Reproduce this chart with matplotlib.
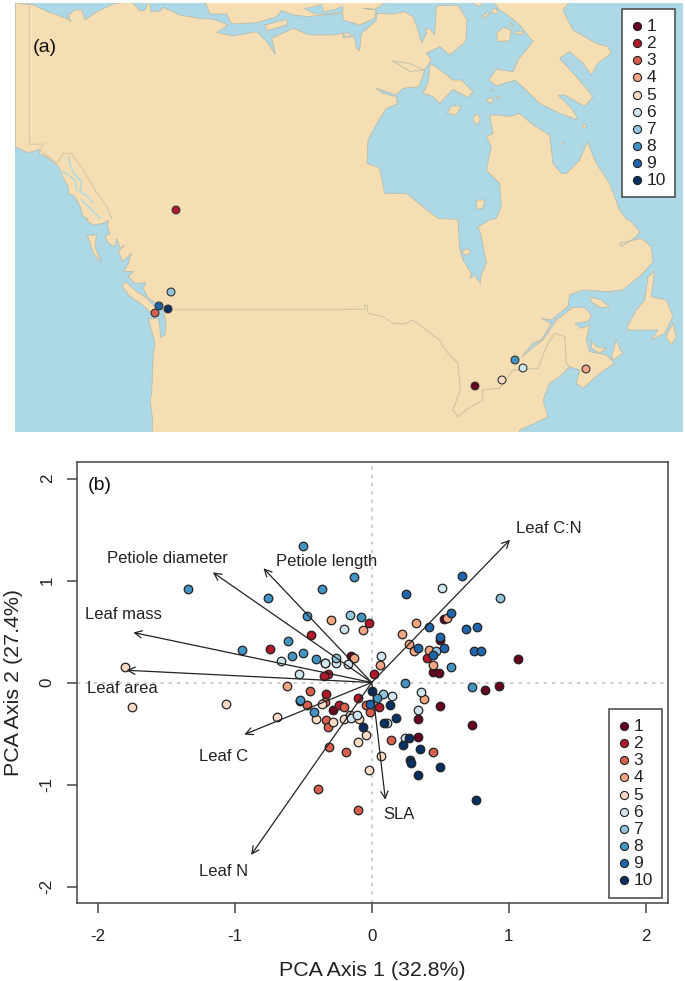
import matplotlib
matplotlib.use('Agg')
import matplotlib.pyplot as plt
from matplotlib.patches import Polygon, Rectangle

plt.rcParams['font.family'] = ['Liberation Sans', 'DejaVu Sans']
plt.rcParams['axes.unicode_minus'] = False

# group colours and legend labels
colors = ['#67001f', '#b2182b', '#d6604d', '#f4a582', '#fddbc7',
          '#d1e5f0', '#92c5de', '#4393c3', '#2166ac', '#053061']
labels = ['1', '2', '3', '4', '5', '6', '7', '8', '9', '10']

# map outlines are traced on a 3x grid, one list per quarter of the map
coast_nw = [(46, 8), (100, 15), (150, 38), (200, 55), (213, 65), (205, 45), (225, 30), (245, 30), (255, 60),
            (290, 35), (340, 12), (365, 8), (398, 8), (420, 33), (435, 30), (445, 8), (450, 8), (452, 35),
            (480, 33), (490, 22), (540, 45), (600, 55), (640, 58), (685, 75), (650, 98), (700, 108), (770, 95),
            (800, 125), (826, 163), (815, 115), (880, 85), (930, 105), (1000, 105), (1029, 100)]
coast_ne1 = [(0, 112), (35, 110), (40, 145), (50, 152), (55, 100), (100, 62), (100, 40), (150, 42), (185, 35),
             (210, 50), (225, 90), (236, 130), (250, 100), (248, 85), (262, 88), (275, 105), (280, 18), (345, 15),
             (372, 60), (368, 125), (320, 165), (290, 140), (250, 160), (265, 180), (245, 210), (200, 214),
             (175, 198), (148, 183), (200, 190), (245, 212), (228, 260), (180, 265), (160, 285), (100, 265),
             (120, 280), (160, 290), (163, 312), (130, 325), (105, 365), (75, 420), (72, 490), (110, 505),
             (125, 580), (190, 580), (240, 620), (285, 655), (340, 658)]
coast_james = [(345, 0), (350, 85), (360, 120), (385, 160), (380, 175), (395, 165), (412, 190), (415, 165),
               (430, 130), (415, 50), (405, 20), (440, 0)]
coast_ne2 = [(460, 655), (475, 620), (470, 550), (430, 510), (445, 440), (430, 410), (450, 400), (440, 345),
             (470, 345), (500, 350), (530, 340), (570, 375), (620, 405), (630, 490), (655, 520), (670, 520),
             (710, 480), (733, 425), (760, 490), (800, 550), (830, 630), (850, 658)]
coast_se = [(860, 0), (890, 35), (880, 50), (835, 80), (830, 70), (895, 55), (925, 80), (930, 125), (900, 160),
            (840, 210), (790, 215), (720, 210), (680, 225), (675, 260), (625, 300), (595, 295), (625, 310),
            (595, 360), (570, 370), (535, 412), (575, 378), (600, 360), (640, 300), (690, 262), (725, 262),
            (745, 285), (735, 305), (695, 310), (715, 325), (740, 315), (730, 360), (740, 395), (790, 405),
            (815, 430), (770, 460), (720, 505), (700, 490), (710, 450), (680, 440), (650, 470), (620, 490),
            (600, 540), (615, 590), (575, 610), (530, 630), (528, 640)]
coast_sw = [(456, 640), (458, 600), (450, 540), (455, 520), (460, 400), (465, 370), (445, 297), (475, 295),
            (480, 325), (482, 352), (495, 345), (498, 310), (490, 270), (470, 250), (445, 235), (430, 205),
            (438, 188), (405, 190), (385, 170), (400, 155), (372, 155), (385, 130), (395, 100), (368, 125),
            (355, 95), (375, 75), (360, 85), (350, 55), (345, 80), (325, 70), (315, 50), (330, 40), (322, 20),
            (325, 0), (310, 10), (280, 15), (258, 0)]
coast_nw2 = [(265, 658), (250, 650), (240, 620), (225, 590), (205, 580), (205, 560), (190, 535), (185, 520),
             (175, 500), (165, 490), (140, 470), (118, 462), (120, 447), (100, 455), (80, 457), (46, 440)]

victoria_nw = [(612, 0), (630, 42), (680, 42), (695, 72), (770, 68), (830, 50), (845, 32), (880, 45), (920, 50),
               (970, 45), (1029, 40)]
victoria_ne = [(0, 60), (50, 75), (95, 55), (100, 30), (60, 25), (95, 28), (130, 6), (130, 0)]
inlet_nw = [(912, 25), (945, 20), (965, 12), (970, 35), (1000, 30), (1029, 18), (1029, 35), (985, 42), (945, 42)]
baffin = [(450, 5), (470, 30), (500, 50), (530, 75), (570, 125), (525, 180), (510, 215), (460, 208), (438, 240),
          (460, 258), (515, 240), (540, 262), (590, 310), (650, 340), (705, 360), (690, 330), (645, 285), (665, 285),
          (725, 320), (750, 290), (700, 230), (650, 175), (680, 155), (720, 190), (745, 225), (765, 190), (805, 160),
          (795, 140), (760, 130), (690, 90), (660, 30), (680, 5)]
southampton = [(262, 190), (285, 205), (330, 240), (355, 240), (390, 275), (375, 293), (330, 268), (290, 310),
               (270, 290), (240, 280), (255, 250)]
islands_ne = [[(460, 100), (480, 82), (505, 90), (500, 122), (465, 125)],
              [(515, 95), (540, 95), (540, 105), (515, 100)],
              [(500, 65), (512, 75), (505, 78)],
              [(415, 50), (435, 35), (440, 42), (420, 55)],
              [(445, 30), (460, 25), (465, 40), (450, 42)],
              [(385, 8), (420, 6), (410, 20)],
              [(312, 340), (325, 318), (355, 318), (340, 345)],
              [(392, 350), (405, 340), (412, 360), (402, 375), (392, 365)],
              [(430, 298), (445, 292), (452, 305), (440, 310)],
              [(458, 290), (472, 290), (470, 298)],
              [(440, 268), (450, 268), (445, 275)],
              [(720, 368), (733, 380), (720, 385)],
              [(655, 428), (665, 425), (660, 435)],
              [(400, 600), (425, 600), (420, 625), (400, 628)],
              [(0, 100), (20, 98), (22, 108), (5, 110)]]
islands_nw = [[(795, 75), (860, 58), (862, 75), (800, 92)]]
islands_sw = [[(365, 195), (380, 187), (410, 215), (435, 230), (470, 265), (475, 285), (450, 275), (420, 250), (385, 225)],
              [(262, 45), (290, 45), (285, 80), (305, 130), (280, 100), (270, 70)]]
islands_se = [[(355, 95), (375, 85), (383, 100), (365, 105)],
              [(740, 230), (775, 240), (800, 262), (770, 262), (745, 245)],
              [(745, 360), (760, 380), (790, 385), (770, 400), (745, 385)],
              [(805, 410), (820, 360), (830, 385), (840, 400), (810, 420)],
              [(850, 325), (880, 270), (905, 240), (915, 170), (935, 155), (925, 230), (970, 240), (990, 290),
               (965, 340), (925, 360), (945, 330), (860, 330)],
              [(968, 350), (990, 310), (1000, 350), (985, 375)]]
alaska_border = [(88, 8), (88, 433), (130, 432), (120, 450), (172, 490), (190, 460), (215, 460), (250, 510),
                 (285, 570), (320, 620), (335, 655)]
us_border_w = [(505, 268), (1029, 268)]
us_border_e = [(0, 268), (65, 268), (65, 255), (72, 255), (75, 280), (120, 290), (150, 310), (185, 312), (210, 300),
               (290, 360), (300, 380), (320, 405), (345, 430), (352, 510), (330, 570), (345, 590), (375, 565),
               (420, 540), (418, 510), (470, 505), (510, 450), (585, 445), (610, 380), (635, 340), (665, 350),
               (670, 430), (680, 440)]
fjords = [[(205, 470), (212, 500), (225, 525), (245, 545), (240, 575), (265, 590), (280, 610)],
          [(190, 515), (225, 540), (230, 570)],
          [(245, 600), (285, 640), (300, 655)]]

# sample sites on the map, same order as labels
site_x = [475, 176, 155, 586, 502, 523, 171, 515, 159, 168]
site_y = [386, 210, 313, 369, 380, 368, 292, 360, 306, 309]

# PCA scores for each group
pc1_g1 = [-0.34, -0.15, -0.28, -0.52, 0.53, 0.50, 0.45, 0.49, 1.07, 0.83, 0.93, 0.50, 0.34, 0.34, 0.73]
pc2_g1 = [0.19, 0.26, -0.27, -0.18, 0.62, 0.42, 0.10, 0.09, 0.23, -0.07, -0.03, -0.23, -0.36, -0.53, -0.42]
pc1_g2 = [-0.02, -0.44, -0.74, -0.32, -0.35, 0.02, 0.40, -0.33, -0.10, -0.24, 0.05]
pc2_g2 = [0.58, 0.47, 0.33, 0.08, 0.06, 0.08, 0.24, -0.11, -0.15, -0.22, -0.24]
pc1_g3 = [-0.45, -0.47, -0.34, -0.20, -0.04, -0.01, -0.33, -0.32, 0.14, -0.19, -0.31, 0.45, -0.39, -0.10]
pc2_g3 = [-0.08, -0.22, -0.19, -0.24, -0.22, -0.29, -0.37, -0.44, -0.56, -0.68, -0.63, -0.68, -1.04, -1.25]
pc1_g4 = [-0.30, -0.06, -0.13, -0.62, 0.06, 0.27, 0.31, 0.42, 0.55, 0.32, 0.22, 0.45, 0.38]
pc2_g4 = [0.61, 0.51, 0.24, -0.03, 0.17, 0.38, 0.31, 0.32, 0.63, 0.58, 0.48, 0.17, -0.16]
pc1_g5 = [-1.80, -1.75, -1.06, -0.69, -0.36, -0.41, -0.28, -0.20, -0.16, -0.09, -0.04, -0.10, 0.07, -0.02]
pc2_g5 = [0.15, -0.24, -0.21, -0.34, -0.21, -0.36, -0.39, -0.36, -0.32, -0.36, -0.51, -0.58, -0.72, -0.86]
pc1_g6 = [-0.20, -0.66, -0.34, -0.26, -0.17, -0.53, 0.07, 0.51, 0.15, 0.36, 0.34, -0.15, -0.11, 0.11, 0.24]
pc2_g6 = [0.52, 0.21, 0.19, 0.19, 0.18, 0.08, 0.26, 0.93, -0.13, -0.09, -0.27, -0.35, -0.32, -0.40, -0.54]
pc1_g7 = [-0.16, -0.26, 0.94, 0.47, 0.08]
pc2_g7 = [0.66, 0.24, 0.83, 0.31, -0.11]
pc1_g8 = [-0.50, -1.34, -0.13, -0.36, -0.76, -0.08, -0.47, -0.61, -0.95, -0.58, -0.50, -0.41, -0.52, -0.42, 0.04, 0.24, 0.73, 0.58]
pc2_g8 = [1.34, 0.92, 1.03, 0.92, 0.83, 0.64, 0.65, 0.41, 0.32, 0.26, 0.29, 0.23, -0.17, -0.29, -0.15, 0.00, -0.04, 0.15]
pc1_g9 = [0.25, 0.66, 0.58, 0.42, 0.69, 0.77, 0.50, 0.34, 0.45, 0.53, 0.75, 0.80, -0.01]
pc2_g9 = [0.87, 1.04, 0.68, 0.54, 0.52, 0.54, 0.45, 0.34, 0.27, 0.34, 0.31, 0.31, -0.21]
pc1_g10 = [0.00, 0.13, 0.18, 0.09, -0.06, 0.27, 0.23, 0.35, 0.28, 0.29, 0.50, 0.34, 0.76]
pc2_g10 = [-0.08, -0.22, -0.35, -0.40, -0.44, -0.54, -0.61, -0.65, -0.76, -0.79, -0.83, -0.91, -1.15]
pc1 = [pc1_g1, pc1_g2, pc1_g3, pc1_g4, pc1_g5, pc1_g6, pc1_g7, pc1_g8, pc1_g9, pc1_g10]
pc2 = [pc2_g1, pc2_g2, pc2_g3, pc2_g4, pc2_g5, pc2_g6, pc2_g7, pc2_g8, pc2_g9, pc2_g10]

# trait loadings
traits = ['Leaf C:N', 'Petiole diameter', 'Petiole length', 'Leaf mass', 'Leaf area', 'Leaf C', 'Leaf N', 'SLA']
load_x = [1.01, -1.16, -0.79, -1.74, -1.79, -0.93, -0.88, 0.10]
load_y = [1.40, 1.08, 1.12, 0.49, 0.12, -0.51, -1.69, -1.15]
label_x = [1.29, -1.49, -0.33, -1.81, -1.82, -1.08, -1.08, 0.20]
label_y = [1.51, 1.22, 1.19, 0.67, -0.06, -0.73, -1.85, -1.29]


def tile(pts, ox, oy):
    return [(ox + x / 3, oy + y / 3) for x, y in pts]


W, H = 685, 981
fig = plt.figure(figsize=(W / 100, H / 100), dpi=100)


def axes_px(left, top, right, bottom):
    return fig.add_axes([left / W, 1 - bottom / H, (right - left) / W, (bottom - top) / H])


# (a) map
water = 'lightblue'
land = 'wheat'
coast = '#b9bdad'
border = '#dccba8'
mp = axes_px(15, 3, 683, 432)
mp.set_xlim(15, 683)
mp.set_ylim(432, 3)
mp.axis('off')
mp.add_patch(Rectangle((15, 3), 668, 429, color=water, zorder=0))

mainland = (tile(coast_nw, 0, 0) + tile(coast_ne1, 343, 0) + tile(coast_james, 343, 220) + tile(coast_ne2, 343, 0)
            + tile(coast_se, 343, 220) + [(519, 434), (152, 434)] + tile(coast_sw, 0, 220) + tile(coast_nw2, 0, 0))
shapes = [mainland, tile(victoria_nw, 0, 0) + tile(victoria_ne, 343, 0), tile(baffin, 343, 0), tile(southampton, 343, 0)]
shapes += [tile(p, 343, 0) for p in islands_ne]
shapes += [tile(p, 0, 0) for p in islands_nw]
shapes += [tile(p, 0, 220) for p in islands_sw]
shapes += [tile(p, 343, 220) for p in islands_se]
for s in shapes:
    mp.add_patch(Polygon(s, closed=True, facecolor=land, edgecolor=coast, linewidth=0.6, zorder=1))
mp.add_patch(Polygon(tile(inlet_nw, 0, 0), closed=True, facecolor=water, edgecolor=coast, linewidth=0.5, zorder=1.5))

for line, ox, oy, col, lw in [(alaska_border, 0, 0, border, 0.9), (us_border_w, 0, 220, border, 1.0),
                              (us_border_e, 343, 220, '#cfc4a6', 0.8)]:
    pts = tile(line, ox, oy)
    mp.plot([p[0] for p in pts], [p[1] for p in pts], color=col, lw=lw, zorder=2)
for line in fjords:
    pts = tile(line, 0, 0)
    mp.plot([p[0] for p in pts], [p[1] for p in pts], color=water, lw=1.0, zorder=2)

mp.scatter(site_x, site_y, s=32, c=colors, edgecolors='#333333', linewidths=0.8, zorder=5)
mp.text(33, 47, '(a)', fontsize=14, va='center', color='#111111')

# (b) PCA biplot, x 137 px and y 102 px per unit
left, top, right, bottom = 76.5, 462, 667.5, 903
x0, y0 = 371.7, 682.5
ax = axes_px(left, top, right, bottom)
ax.set_xlim((left - x0) / 137, (right - x0) / 137)
ax.set_ylim((y0 - bottom) / 102, (y0 - top) / 102)
ax.axhline(0, color='#c4c4c4', lw=1.2, ls=(0, (2, 3)), zorder=1)
ax.axvline(0, color='#c4c4c4', lw=1.2, ls=(0, (2, 3)), zorder=1)
for i in range(len(pc1)):
    ax.scatter(pc1[i], pc2[i], s=38, color=colors[i], edgecolors='#222222', linewidths=0.9, zorder=3)
for i in range(len(traits)):
    ax.annotate('', xy=(load_x[i], load_y[i]), xytext=(0, 0),
                arrowprops=dict(arrowstyle='->', color='#222222', lw=0.9, shrinkA=0, shrinkB=0, mutation_scale=13),
                zorder=4)
    ax.text(label_x[i], label_y[i], traits[i], fontsize=12, ha='center', va='center', color='#222222', zorder=5)
ax.text((100 - x0) / 137, (y0 - 486) / 102, '(b)', fontsize=14, ha='center', va='center', color='#111111')

ax.set_xticks([-2, -1, 0, 1, 2])
ax.set_yticks([-2, -1, 0, 1, 2])
ax.tick_params(length=7.2, width=1.1, color='#444444', labelsize=12.2, labelcolor='#222222')
ax.tick_params(axis='x', pad=11.5)
ax.tick_params(axis='y', pad=8.5)
for t in ax.get_yticklabels():
    t.set_rotation(90)
    t.set_va('center')
ax.set_xlabel('PCA Axis 1 (32.8%)', fontsize=15.4, color='#222222', va='center')
ax.set_ylabel('PCA Axis 2 (27.4%)', fontsize=15.4, color='#222222', va='center')
ax.xaxis.set_label_coords(0.5, (bottom - 970) / (bottom - top))
ax.yaxis.set_label_coords((13.5 - left) / (right - left), (bottom - 682) / (bottom - top))
for s in ax.spines.values():
    s.set_color('#444444')
    s.set_linewidth(1.1)

# legends drawn over everything in pixel coordinates
ov = axes_px(0, 0, W, H)
ov.set_xlim(0, W)
ov.set_ylim(H, 0)
ov.axis('off')
for l, t, r, b, mark_x in [(622, 9, 675, 197, 637), (609, 709, 662, 898, 624)]:
    ov.add_patch(Rectangle((l, t), r - l, b - t, facecolor='white', edgecolor='#444444', lw=1.1))
    for i in range(10):
        y = t + 17 + i * 17.15
        ov.scatter(mark_x, y, s=34, color=colors[i], edgecolors='#222222', linewidths=0.8, zorder=3)
        ov.text(mark_x + 9.5, y + 0.5, labels[i], fontsize=12.5, va='center', color='#222222')

fig.savefig('out.png', dpi=100)
